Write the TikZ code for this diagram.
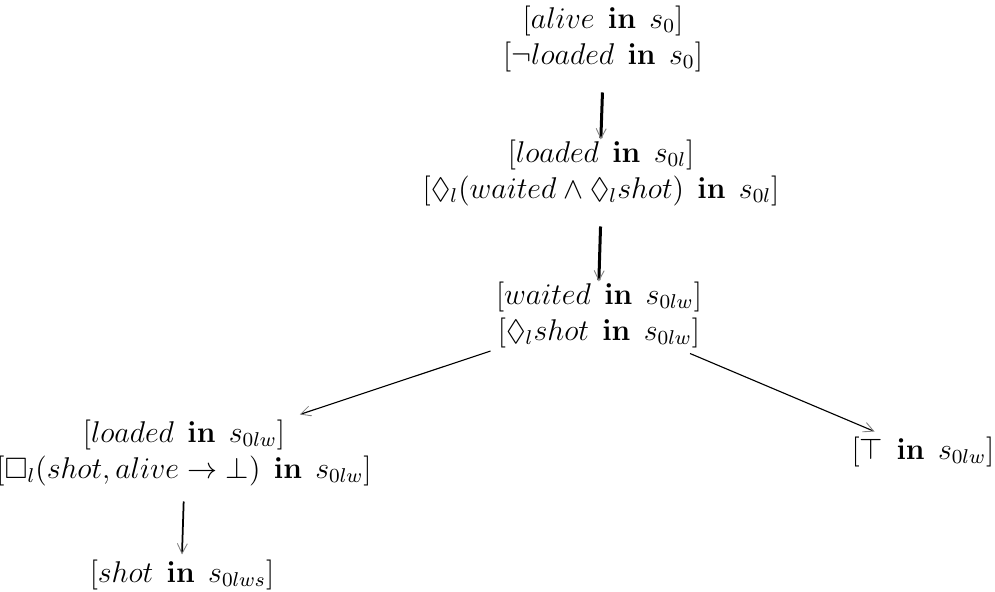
\documentclass[tikz,border=0pt]{standalone}
\usepackage{amssymb}
\usetikzlibrary{arrows.meta}
\newcommand{\kin}{\;\,\mathbf{in}\;\,}
\begin{document}
\begin{tikzpicture}[x=0.4pt,y=-0.4pt,
  lbl/.style={align=center,inner sep=2pt,font=\fontsize{11.8}{14.4}\selectfont},
  tip/.style={-{Straight Barb[length=4pt,width=4pt,line width=0.35pt,color=gray]}},
  thickconn/.style={tip,line width=1.2pt},
  midconn/.style={tip,line width=0.7pt},
  thinconn/.style={tip,line width=0.45pt}]
\useasboundingbox (0,0) rectangle (995,592);
\node[lbl] (n1) at (603,39) {$[alive\kin s_0]$\\$[\neg loaded\kin s_0]$};
\node[lbl] (n2) at (601,173) {$[loaded\kin s_{0l}]$\\$[\Diamond_l(waited\wedge\Diamond_l shot)\kin s_{0l}]$};
\node[lbl] (n3) at (599,315) {$[waited\kin s_{0lw}]$\\$[\Diamond_l shot\kin s_{0lw}]$};
\node[lbl] (n4) at (184,453) {$[loaded\kin s_{0lw}]$\\$[\Box_l(shot,alive\rightarrow\bot)\kin s_{0lw}]$};
\node[lbl] (n5) at (182,575) {$[shot\kin s_{0lws}]$};
\node[lbl] (n6) at (923,452) {$[\top\kin s_{0lw}]$};
\draw[thickconn,shorten <=6pt,shorten >=-2pt] (n1.south) -- (n2.north);
\draw[thickconn,shorten <=6pt,shorten >=-2pt] (n2.south) -- (n3.north);
\draw[thinconn] (n3) -- (n4);
\draw[thinconn] (n3) -- (n6);
\draw[midconn,shorten <=4pt] (n4.south) -- (n5.north);
\end{tikzpicture}
\end{document}
